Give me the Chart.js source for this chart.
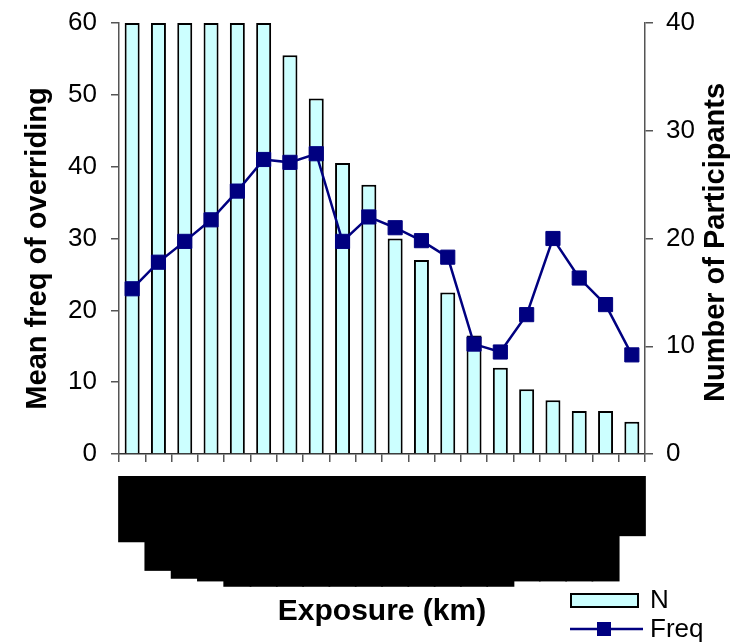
<!DOCTYPE html>
<html>
<head>
<meta charset="utf-8">
<script src="https://cdn.jsdelivr.net/npm/chart.js@4.4.1/dist/chart.umd.min.js"></script>
<style>
  html, body { margin: 0; padding: 0; background: #fff; }
</style>
</head>
<body>
<canvas id="MyChart" width="731" height="643"></canvas>
<script>
// exposure bands (km), one per bar
const bands = [
  '0 - 500', '500 - 1000', '1000 - 1500', '1500 - 2000', '2000 - 2500',
  '2500 - 3000', '3000 - 3500', '3500 - 4000', '4000 - 4500', '4500 - 5000',
  '5000 - 5500', '5500 - 6000', '6000 - 6500', '6500 - 7000', '7000 - 7500',
  '7500 - 8000', '8000 - 8500', '8500 - 9000', '9000 - 9500', '9500+'
];
// N per band (right axis)
const participants = [40, 40, 40, 40, 40, 40, 37, 33, 27, 25, 20, 18, 15, 11, 8, 6, 5, 4, 4, 3];
// mean overriding frequency per band (left axis)
const meanFreq = [23.0, 26.7, 29.6, 32.6, 36.6, 41.0, 40.6, 41.8, 29.6, 33.0,
                  31.5, 29.7, 27.4, 15.3, 14.2, 19.4, 30.0, 24.5, 20.8, 13.8];
const freqTicks = [0, 10, 20, 30, 40, 50, 60];
const countTicks = [0, 10, 20, 30, 40];

const FONT = '"Liberation Sans", Arial, sans-serif';
const AXIS = '#555';
// band label font size, a touch smaller on a few columns
const bandFontSize = (i) => (i === 2 ? 18.5 : (i === 1 || i === 3 || (i >= 15 && i <= 18)) ? 19 : 20);

// titles for both y axes read bottom-to-top, plus the two-row legend
const extras = {
  id: 'extras',
  afterDraw(chart) {
    const ctx = chart.ctx;
    const area = chart.chartArea;
    const mid = (area.top + area.bottom) / 2;
    ctx.save();
    ctx.fillStyle = '#000';
    ctx.font = 'bold 29px ' + FONT;
    ctx.textAlign = 'center';
    ctx.textBaseline = 'middle';
    [[38, mid + 10, 'Mean freq of overriding'], [716, mid + 4, 'Number of Participants']].forEach(([x, y, t]) => {
      ctx.save();
      ctx.translate(x, y);
      ctx.rotate(-Math.PI / 2);
      ctx.fillText(t, 0, 0);
      ctx.restore();
    });

    const bars = chart.data.datasets[0];
    const line = chart.data.datasets[1];
    ctx.font = '26px ' + FONT;
    ctx.textAlign = 'left';
    ctx.lineWidth = 2;
    ctx.fillStyle = bars.backgroundColor;
    ctx.strokeStyle = bars.borderColor;
    ctx.fillRect(571, 594, 67, 13);
    ctx.strokeRect(571, 594, 67, 13);
    ctx.fillStyle = '#000';
    ctx.fillText(bars.label, 650, 601);

    ctx.strokeStyle = line.borderColor;
    ctx.lineWidth = line.borderWidth;
    ctx.beginPath();
    ctx.moveTo(570, 629);
    ctx.lineTo(643, 629);
    ctx.stroke();
    ctx.fillStyle = line.pointBackgroundColor;
    ctx.fillRect(597, 622, 14, 14);
    ctx.fillStyle = '#000';
    ctx.fillText(line.label, 650, 630);
    ctx.restore();
  }
};

// keep the plot top fixed instead of reserving room for the tick label overflow
function fixWidth(w) {
  return (scale) => {
    scale.width = w;
    scale.paddingTop = 0;
  };
}

const ctx = document.getElementById('MyChart').getContext('2d');
new Chart(ctx, {
  data: {
    labels: bands,
    datasets: [{
      type: 'bar',
      label: 'N',
      data: participants,
      yAxisID: 'y1',
      backgroundColor: '#CCFFFF',
      borderColor: '#000',
      borderWidth: 2,
      barPercentage: 0.57,
      categoryPercentage: 1.0,
      order: 1
    }, {
      type: 'line',
      label: 'Freq',
      data: meanFreq,
      yAxisID: 'y',
      borderColor: '#000080',
      borderWidth: 2.5,
      pointStyle: 'rect',
      pointRadius: 10,
      pointBorderWidth: 1,
      pointBackgroundColor: '#000080',
      pointBorderColor: '#000080',
      tension: 0,
      order: 0
    }]
  },
  options: {
    responsive: false,
    animation: false,
    devicePixelRatio: 1,
    layout: { padding: { top: 23, left: 0, right: 0, bottom: 0 } },
    plugins: {
      legend: { display: false },
      tooltip: { enabled: false }
    },
    scales: {
      x: {
        offset: true,
        grid: { offset: true, drawOnChartArea: false, color: AXIS, tickLength: 8, lineWidth: 1.5 },
        border: { color: '#333', width: 1.5 },
        ticks: {
          autoSkip: false,
          minRotation: 90,
          maxRotation: 90,
          padding: 16,
          labelOffset: -12,
          color: '#000',
          font: (c) => ({ family: FONT, size: bandFontSize(c.index), weight: 'bold', lineHeight: 24 / bandFontSize(c.index) }),
          showLabelBackdrop: true,
          backdropColor: '#000',
          backdropPadding: { left: 2, right: 2, top: 2, bottom: 2 }
        },
        title: {
          display: true,
          text: 'Exposure (km)',
          color: '#000',
          font: { family: FONT, size: 30, weight: 'bold' },
          padding: { top: 0, bottom: 13 }
        },
        afterFit: (scale) => { scale.height = 189; }
      },
      y: {
        position: 'left',
        min: freqTicks[0],
        max: freqTicks[freqTicks.length - 1],
        grid: { drawOnChartArea: false, color: AXIS, tickLength: 8, lineWidth: 1.5 },
        border: { color: AXIS, width: 1.5 },
        ticks: {
          stepSize: freqTicks[1] - freqTicks[0],
          padding: 14,
          color: '#000',
          font: { family: FONT, size: 26 }
        },
        afterFit: fixWidth(119)
      },
      y1: {
        position: 'right',
        min: countTicks[0],
        max: countTicks[countTicks.length - 1],
        grid: { drawOnChartArea: false, color: AXIS, tickLength: 8, lineWidth: 1.5 },
        border: { color: AXIS, width: 1.5 },
        ticks: {
          stepSize: countTicks[1] - countTicks[0],
          padding: 13,
          color: '#000',
          font: { family: FONT, size: 26 }
        },
        afterFit: fixWidth(86)
      }
    }
  },
  plugins: [extras]
});
</script>
</body>
</html>
